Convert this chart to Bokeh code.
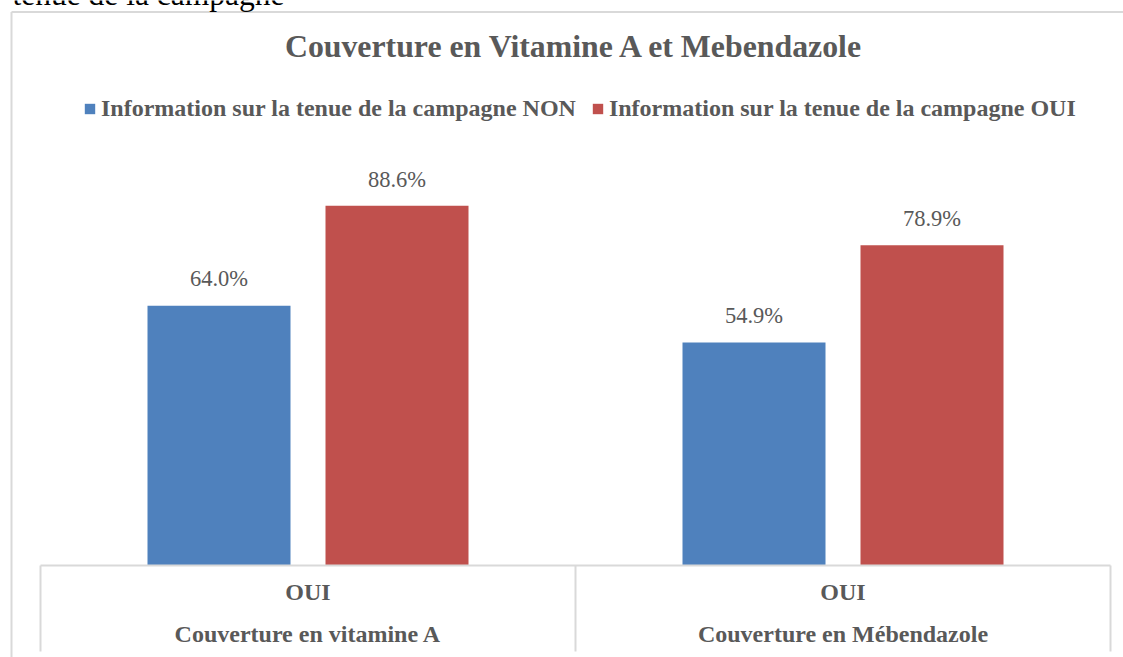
import numpy as np
from bokeh.plotting import figure
from bokeh.models import Range1d, ColumnDataSource, Legend, LegendItem
from bokeh.core.properties import value
from bokeh.embed import file_html
from bokeh.resources import INLINE

# ---------------- data ----------------
categories = ["Couverture en vitamine A", "Couverture en Mébendazole"]
sub_labels = ["OUI", "OUI"]
series_names = ["Information sur la tenue de la campagne NON",
                "Information sur la tenue de la campagne OUI"]
values_non = [64.0, 54.9]
values_oui = [88.6, 78.9]
title_text = "Couverture en Vitamine A et Mebendazole"
caption_text = "tenue de la campagne"

# ---------------- style ----------------
BLUE = "#4F81BD"
RED = "#C0504D"
GREY_TXT = "#595959"
BORDER = "#D9D9D9"
FONT = "Liberation Serif"

W, H = 1123, 657
PAGE = 0
X0 = 40.0      # screen x of first category boundary
CAT_W = 535.0  # px per category
Y0 = 565.0     # screen y of value 0
PX = 4.06      # px per percent
BASE_K = 0.39  # renderer baseline correction (fraction of font size)


def sx2x(sx):
    return (sx - X0) / CAT_W


def sy2y(sy):
    return (Y0 - sy) / PX


def base(sy, fs):
    return sy2y(sy - BASE_K * fs)


p = figure(width=W, height=H, output_backend="svg", toolbar_location=None,
           x_range=Range1d(sx2x(PAGE), sx2x(PAGE + W)),
           y_range=Range1d(sy2y(PAGE + H), sy2y(PAGE)),
           x_axis_location=None, y_axis_location=None,
           min_border=0, min_border_left=0, min_border_right=0,
           min_border_top=0, min_border_bottom=0)
p.grid.visible = False
p.outline_line_color = None
p.background_fill_color = "white"
p.border_fill_color = "white"

n = len(categories)
idx = np.arange(n)
centers = idx + 0.5
BAR_W = 143.0 / CAT_W
OFF = 89.0 / CAT_W

# chart border (left & top)
p.segment(x0=[sx2x(11), sx2x(11)], y0=[sy2y(11.5), sy2y(11.5)],
          x1=[sx2x(11), sx2x(PAGE + W + 5)], y1=[sy2y(PAGE + H + 5), sy2y(11.5)],
          line_color=BORDER, line_width=2)

# bars
src_non = ColumnDataSource(dict(x=centers - OFF, top=values_non,
                                lab=[f"{v:.1f}%" for v in values_non]))
src_oui = ColumnDataSource(dict(x=centers + OFF, top=values_oui,
                                lab=[f"{v:.1f}%" for v in values_oui]))
r_non = p.vbar(x="x", top="top", bottom=0, width=BAR_W, source=src_non,
               fill_color=BLUE, line_color=None)
r_oui = p.vbar(x="x", top="top", bottom=0, width=BAR_W, source=src_oui,
               fill_color=RED, line_color=None)

# data labels
LBL_FS = 22.5
for src in (src_non, src_oui):
    p.text(x="x", y="top", text="lab", source=src,
           y_offset=-(18 + BASE_K * LBL_FS),
           text_align="center", text_baseline="alphabetic",
           text_font=value(FONT), text_font_size=f"{LBL_FS}px",
           text_color=GREY_TXT)

# category table (axis)
bounds = np.arange(n + 1)
p.segment(x0=[bounds[0]], y0=[0], x1=[bounds[-1]], y1=[0],
          line_color=BORDER, line_width=2)
p.segment(x0=bounds, y0=np.zeros(n + 1), x1=bounds,
          y1=np.full(n + 1, sy2y(651)),
          line_color=BORDER, line_width=2)
CAT_FS = 24
p.text(x=centers, y=np.full(n, base(601, CAT_FS)), text=sub_labels,
       text_align="center", text_baseline="alphabetic",
       text_font=value(FONT), text_font_style="bold",
       text_font_size=f"{CAT_FS}px", text_color=GREY_TXT)
p.text(x=centers, y=np.full(n, base(643, CAT_FS)), text=categories,
       text_align="center", text_baseline="alphabetic",
       text_font=value(FONT), text_font_style="bold",
       text_font_size=f"{CAT_FS}px", text_color=GREY_TXT)

# title
TITLE_FS = 31.8
p.text(x=[sx2x(574.5)], y=[base(58, TITLE_FS)], text=[title_text],
       text_align="center", text_baseline="alphabetic",
       text_font=value(FONT), text_font_style="bold",
       text_font_size=f"{TITLE_FS}px", text_color=GREY_TXT)

# caption above chart (cut off at the top, as in the source)
CAP_FS = 31.5
p.text(x=[sx2x(12)], y=[base(6.5, CAP_FS)], text=[caption_text],
       text_align="left", text_baseline="alphabetic",
       text_font=value(FONT), text_font_size=f"{CAP_FS}px", text_color="black")

# legend
legend = Legend(items=[LegendItem(label=series_names[0], renderers=[r_non]),
                       LegendItem(label=series_names[1], renderers=[r_oui])],
                orientation="horizontal", location=(83, H - 122),
                padding=0, margin=0, spacing=15, label_standoff=5,
                glyph_width=13, glyph_height=13,
                label_text_font=FONT, label_text_font_style="bold",
                label_text_font_size="24px", label_text_color=GREY_TXT,
                border_line_color=None, background_fill_alpha=0)
p.add_layout(legend)

open("out.html", "w").write(file_html(p, INLINE))
